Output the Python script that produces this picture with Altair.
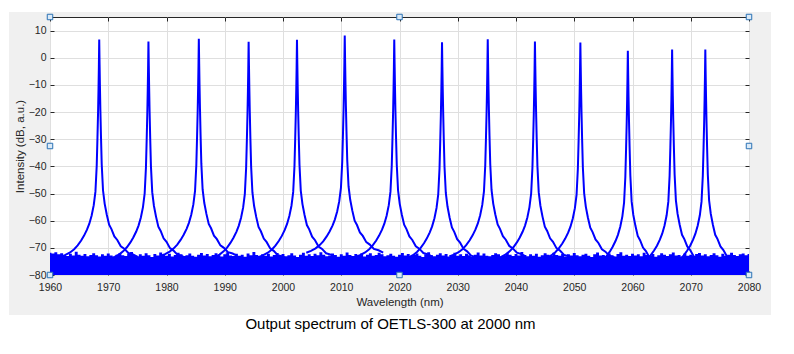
import altair as alt
import pandas as pd

FONT = "Liberation Sans"
BLUE = "#0000ff"
INK = "#262626"

# ---- data ----
noise_start = 1960.0
noise_step = 0.5
noise_top = [
    -71.8, -72.1, -71.6, -72.4, -72.0, -72.6, -73.0, -72.2, -72.8, -71.4, -72.5, -72.9, -72.3, -73.1, -72.6, -72.0, -72.7, -73.2, -72.4, -72.9,
    -72.1, -72.8, -73.3, -72.5, -71.9, -72.7, -73.0, -72.2, -71.5, -72.6, -73.1, -72.4, -72.9, -72.0, -72.7, -73.4, -72.3, -72.8, -71.7, -72.5,
    -72.9, -72.2, -73.2, -72.6, -71.8, -72.4, -73.0, -72.7, -72.1, -72.9, -73.3, -72.5, -71.9, -72.8, -72.3, -73.1, -72.6, -72.0, -72.7, -73.2,
    -72.4, -71.6, -72.8, -73.0, -72.2, -72.9, -72.5, -73.3, -72.1, -72.7, -71.5, -72.6, -73.0, -72.4, -72.9, -72.2, -73.2, -72.6, -71.9, -72.8,
    -72.3, -73.1, -72.7, -72.0, -72.8, -73.4, -72.5, -71.8, -72.9, -72.4, -73.0, -72.2, -72.7, -71.6, -72.5, -73.1, -72.8, -72.1, -72.6, -73.3,
    -72.4, -72.9, -71.7, -72.6, -73.0, -72.3, -72.8, -72.1, -73.2, -72.5, -72.0, -72.9, -72.6, -71.8, -72.4, -73.1, -72.7, -72.2, -72.9, -73.3,
    -72.5, -71.9, -72.8, -72.3, -73.0, -72.6, -72.1, -72.9, -73.4, -72.4, -71.6, -72.7, -73.1, -72.5, -72.0, -72.8, -72.3, -73.2, -72.6, -71.8,
    -72.9, -72.4, -73.0, -72.2, -72.7, -73.3, -72.5, -71.7, -72.8, -72.1, -72.9, -73.1, -72.6, -72.0, -72.4, -73.2, -72.7, -71.9, -72.5, -73.0,
    -72.3, -72.8, -71.5, -72.6, -73.1, -72.4, -72.9, -72.2, -73.3, -72.7, -72.0, -72.5, -73.0, -71.8, -72.6, -72.9, -72.3, -73.2, -72.4, -72.8,
    -71.9, -72.7, -73.1, -72.5, -72.2, -72.9, -73.4, -72.4, -71.7, -72.8, -72.6, -73.0, -72.1, -72.7, -73.2, -72.3, -71.6, -72.9, -72.5, -73.0,
    -72.2, -72.8, -72.4, -73.1, -71.8, -72.6, -72.9, -72.3, -73.3, -72.7, -72.0, -72.5, -73.0, -72.4, -71.7, -72.8, -72.6, -73.2, -72.1, -72.9,
    -72.5, -73.0, -72.3, -71.9, -72.8, -72.4, -73.1, -72.6, -72.0, -72.7, -73.3, -72.2, -72.9, -72.5, -71.8, -72.6, -73.0, -72.4, -72.1, -72.7,
    -72.3,
]
noise_floor = -80

peak_centers = [1968.45, 1976.9, 1985.55, 1994.1, 2002.4, 2010.6, 2019.1, 2027.3, 2035.15, 2043.25, 2051.05, 2059.2, 2066.8, 2072.5]
peak_apex = [6.7, 6.0, 7.0, 5.9, 6.6, 8.2, 6.7, 5.7, 6.8, 6.0, 5.6, 2.6, 3.0, 3.0]

profile_offsets = [0, 0.06, 0.12, 0.2, 0.3, 0.43, 0.65, 0.94, 1.3, 1.7, 2.1, 2.6, 3.1, 3.7, 4.3, 5.0, 5.8, 6.6]
drop_left = [0, -10, -18, -27, -36, -46.5, -56, -61.0, -64.8, -67.8, -70.0, -72.2, -74.0, -75.8, -77.2, -78.4, -79.3, -80]
drop_right = [0, -9, -17, -26, -35.5, -46, -55.5, -60.5, -64.5, -68.2, -69.8, -72.5, -73.8, -76.1, -77.0, -78.6, -79.1, -80]

x_ticks = list(range(1960, 2081, 10))
y_ticks = list(range(-80, 11, 10))
x_domain = [1960, 2080]
y_domain = [-80, 15]

handle_x = [1960, 2020, 2080, 1960, 2080, 1960, 2020, 2080]
handle_y = [15, 15, 15, -32.5, -32.5, -80, -80, -80]

# ---- tables ----
noise_df = pd.DataFrame({
    "x": [noise_start + i * noise_step for i in range(len(noise_top))],
    "top": noise_top,
    "floor": [noise_floor] * len(noise_top),
})

rows = []
for k, (c, a) in enumerate(zip(peak_centers, peak_apex)):
    for off, d in zip(reversed(profile_offsets[1:]), reversed(drop_left[1:])):
        rows.append({"peak": k, "x": c - off, "y": a + d})
    rows.append({"peak": k, "x": c, "y": a})
    for off, d in zip(profile_offsets[1:], drop_right[1:]):
        rows.append({"peak": k, "x": c + off, "y": a + d})
peaks_df = pd.DataFrame(rows)

handles_df = pd.DataFrame({"x": handle_x, "y": handle_y})

xs = alt.Scale(domain=x_domain, nice=False, zero=False)
ys = alt.Scale(domain=y_domain, nice=False, zero=False)

# ---- layers ----
noise = alt.Chart(noise_df).mark_area(color=BLUE, interpolate="step", opacity=1).encode(
    x=alt.X("x:Q", scale=xs, axis=alt.Axis(
        orient="bottom", values=x_ticks, format="d", offset=-4, tickSize=4, tickColor=INK,
        domain=False, grid=True, gridColor="#dfdfdf", labelPadding=7, labelFont=FONT,
        labelFontSize=10.5, labelColor=INK, labelFlush=False, labelOverlap=False,
        title="Wavelength (nm)", titleFont=FONT, titleFontSize=11.5, titleFontWeight="normal",
        titleColor=INK, titlePadding=4)),
    y=alt.Y("top:Q", scale=ys, axis=alt.Axis(
        orient="left", values=y_ticks, format="d", offset=-4, tickSize=4, tickColor=INK,
        domain=False, grid=True, gridColor="#dfdfdf", labelPadding=4, labelFont=FONT,
        labelFontSize=10.5, labelColor=INK, labelFlush=False, labelOverlap=False,
        title="Intensity (dB, a.u.)", titleFont=FONT, titleFontSize=11.5, titleFontWeight="normal",
        titleColor=INK, titlePadding=3)),
    y2="floor:Q",
)

peaks = alt.Chart(peaks_df).mark_line(color=BLUE, strokeWidth=2).encode(
    x=alt.X("x:Q", scale=xs, axis=alt.Axis(
        orient="top", values=x_ticks, offset=-4, tickSize=4, tickColor=INK,
        labels=False, domain=False, grid=False, title=None)),
    y=alt.Y("y:Q", scale=ys, axis=alt.Axis(
        orient="right", values=y_ticks, offset=-4, tickSize=4, tickColor=INK,
        labels=False, domain=False, grid=False, title=None)),
    detail="peak:N",
    order="x:Q",
)

handles = alt.Chart(handles_df).mark_point(
    shape="square", size=30, filled=True, fill="#dbeaf7", stroke="#2a72b5", strokeWidth=1, opacity=1
).encode(
    x=alt.X("x:Q", scale=xs, axis=None),
    y=alt.Y("y:Q", scale=ys, axis=None),
)

# white surroundings outside the grey figure panel (decoration)
blank = pd.DataFrame({"a": [0]})
strip_b = alt.Chart(blank).mark_rect(color="white").encode(
    x=alt.value(-50), x2=alt.value(744), y=alt.value(298), y2=alt.value(337))
strip_r = alt.Chart(blank).mark_rect(color="white").encode(
    x=alt.value(721), x2=alt.value(744), y=alt.value(-17), y2=alt.value(337))
strip_l = alt.Chart(blank).mark_rect(color="white").encode(
    x=alt.value(-50), x2=alt.value(-41), y=alt.value(-17), y2=alt.value(337))
strip_t = alt.Chart(blank).mark_rect(color="white").encode(
    x=alt.value(-50), x2=alt.value(744), y=alt.value(-17), y2=alt.value(-5))

chart = alt.layer(strip_b, strip_r, strip_l, strip_t, noise, peaks, handles).resolve_axis(
    x="independent", y="independent"
).properties(
    width=699,
    height=258,
    padding={"left": 50, "top": 17, "right": 45, "bottom": 79},
    autosize=alt.AutoSizeParams(type="none"),
    background="#f0f0f0",
    title=alt.TitleParams(
        text="Output spectrum of OETLS-300 at 2000 nm", orient="bottom", anchor="middle",
        font=FONT, fontSize=15, fontWeight="normal", color="black", offset=-37, dx=-9),
).configure_view(fill="white", stroke=INK, strokeWidth=1)

chart.save("out.html", embed_options={"renderer": "svg", "actions": False})
